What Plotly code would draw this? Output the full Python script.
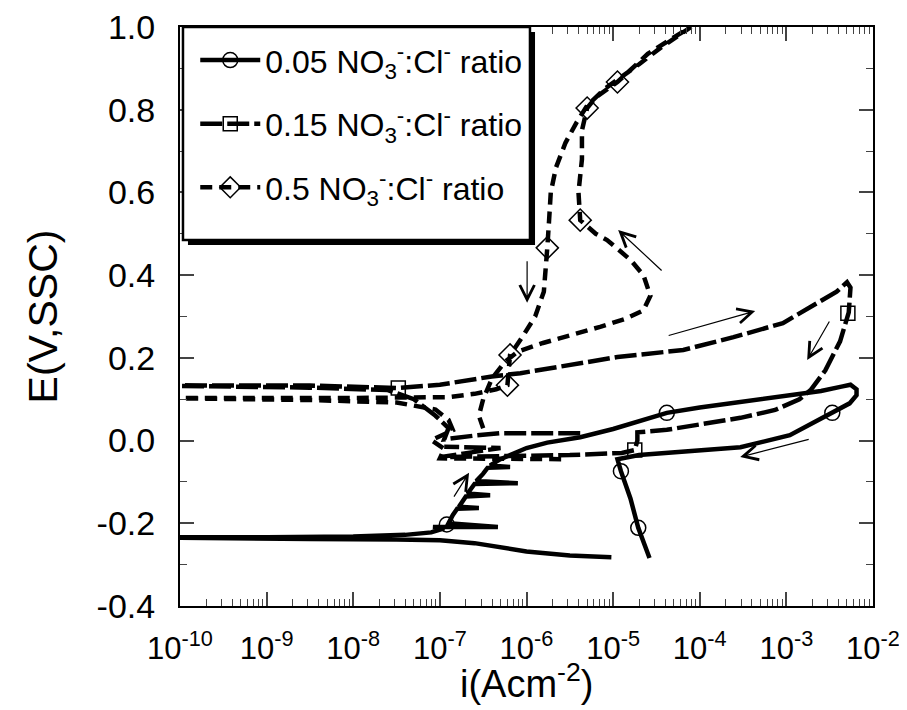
import numpy as np
import plotly.graph_objects as go

# ---------------- data (log10 of current density, potential in V vs SSC) ----------------
# 0.05 NO3-:Cl- ratio (solid, circles)
c1_logi = [-5.02, -5.5, -6.0, -6.3, -6.6, -7.0, -7.5, -8.5, -9.5, -10.3,
           -10.3, -9.0, -8.0, -7.4, -7.1, -6.95,
           -7.08, -6.33, -6.9, -6.85, -6.8, -6.55, -6.78, -6.7, -6.42, -6.68,
           -6.6, -6.1, -6.58, -6.5, -6.45, -6.19, -6.42, -6.3, -6.15, -6.0,
           -5.76, -5.38, -5.0, -4.7, -4.38, -4.0, -3.5, -3.0, -2.6, -2.35,
           -2.26, -2.19, -2.19, -2.27, -2.47, -2.96, -3.53, -4.31, -4.7,
           -4.95, -4.93, -4.91, -4.8, -4.71, -4.58]
c1_E = [-0.282, -0.278, -0.268, -0.257, -0.248, -0.241, -0.239, -0.238, -0.237, -0.237,
        -0.234, -0.234, -0.232, -0.228, -0.222, -0.212,
        -0.209, -0.209, -0.200, -0.180, -0.165, -0.163, -0.160, -0.135, -0.132, -0.128,
        -0.105, -0.103, -0.098, -0.080, -0.066, -0.064, -0.060, -0.045, -0.030, -0.018,
        -0.005, 0.008, 0.028, 0.048, 0.067, 0.080, 0.094, 0.108, 0.120, 0.131,
        0.135, 0.124, 0.110, 0.090, 0.067, 0.013, -0.016, -0.028, -0.035,
        -0.045, -0.060, -0.074, -0.140, -0.211, -0.284]
c1_mk_logi = [-6.92, -4.38, -2.47, -4.91, -4.71]
c1_mk_E = [-0.203, 0.067, 0.067, -0.074, -0.211]

# 0.15 NO3-:Cl- ratio (long dash, squares)
c2_logi = [-5.38, -6.3, -6.6, -6.95, -6.9, -7.05, -7.3, -7.6, -8.5, -10.3,
           -10.3, -8.5, -7.48, -7.0, -6.7, -6.4, -6.07, -5.65, -4.95, -4.19,
           -3.61, -3.04, -2.64, -2.42, -2.30, -2.26, -2.28, -2.38, -2.55, -2.72,
           -2.85, -3.13, -3.53, -4.0, -4.38, -4.72, -4.72, -4.75, -4.9, -5.5,
           -6.0, -6.5, -7.0, -6.3, -6.95]
c2_E = [0.018, 0.018, 0.012, 0.003, 0.030, 0.060, 0.100, 0.122, 0.128, 0.130,
        0.133, 0.133, 0.127, 0.135, 0.145, 0.155, 0.163, 0.178, 0.202, 0.219,
        0.250, 0.284, 0.333, 0.360, 0.383, 0.370, 0.310, 0.240, 0.170, 0.122,
        0.100, 0.074, 0.055, 0.038, 0.026, 0.020, 0.000, -0.023, -0.030, -0.035,
        -0.037, -0.039, -0.040, -0.018, -0.015]
c2_mk_logi = [-7.48, -2.29, -4.75]
c2_mk_E = [0.127, 0.308, -0.023]

# 0.5 NO3-:Cl- ratio (short dash, diamonds)
c3_logi = [-5.6, -7.0, -6.95, -7.1, -6.85, -6.9, -7.05, -7.5, -8.5, -10.3,
           -10.3, -8.0, -7.2, -6.9, -6.6, -6.35, -6.22, -6.2, -6.19, -6.05,
           -5.9, -5.8, -5.77, -5.76, -5.74, -5.72, -5.66, -5.55, -5.42, -5.3,
           -5.1, -4.95, -4.7, -4.45, -4.2, -4.1, -4.3, -4.6, -4.95, -5.2,
           -5.3, -5.36, -5.36, -5.4, -5.38, -5.2, -5.07, -4.8, -4.65, -4.57,
           -4.65, -4.85, -5.15, -5.5, -5.81, -6.1, -6.25, -6.4, -6.5, -6.55, -6.5]
c3_E = [-0.045, -0.043, -0.020, 0.001, 0.025, 0.050, 0.075, 0.092, 0.098, 0.100,
        0.103, 0.103, 0.103, 0.105, 0.113, 0.124, 0.134, 0.170, 0.207, 0.250,
        0.300, 0.360, 0.420, 0.466, 0.530, 0.600, 0.660, 0.720, 0.770, 0.810,
        0.850, 0.872, 0.910, 0.950, 0.985, 1.000, 0.975, 0.935, 0.867, 0.830,
        0.804, 0.750, 0.680, 0.600, 0.533, 0.500, 0.485, 0.437, 0.400, 0.350,
        0.315, 0.295, 0.275, 0.255, 0.236, 0.215, 0.190, 0.150, 0.100, 0.060, 0.030]
c3_mk_logi = [-6.22, -6.19, -5.76, -5.38, -5.30, -4.95]
c3_mk_E = [0.134, 0.207, 0.466, 0.533, 0.804, 0.867]

names = ["0.05 NO<sub>3</sub><sup>-</sup>:Cl<sup>-</sup> ratio",
         "0.15 NO<sub>3</sub><sup>-</sup>:Cl<sup>-</sup> ratio",
         "0.5 NO<sub>3</sub><sup>-</sup>:Cl<sup>-</sup> ratio"]

# scan-direction arrows: (tail logi, tail E, head logi, head E)
arrows = [(-6.848, -0.139, -6.663, -0.078),
          (-5.993, 0.437, -5.993, 0.333),
          (-4.423, 0.408, -4.942, 0.509),
          (-4.376, 0.253, -3.360, 0.313),
          (-2.494, 0.2915, -2.760, 0.195),
          (-2.725, 0.004, -3.533, -0.040)]

x_tickvals = [1e-10, 1e-9, 1e-8, 1e-7, 1e-6, 1e-5, 1e-4, 1e-3, 1e-2]
x_ticktext = ["10<sup>-10</sup>", "10<sup>-9</sup>", "10<sup>-8</sup>", "10<sup>-7</sup>",
              "10<sup>-6</sup>", "10<sup>-5</sup>", "10<sup>-4</sup>", "10<sup>-3</sup>",
              "10<sup>-2</sup>"]
y_tickvals = [-0.4, -0.2, 0.0, 0.2, 0.4, 0.6, 0.8, 1.0]
y_ticktext = ["-0.4", "-0.2", "0.0", "0.2", "0.4", "0.6", "0.8", "1.0"]

# ---------------- figure ----------------
FONT = "Liberation Sans, Arial, sans-serif"
fig = go.Figure()

series = [
    (c1_logi, c1_E, c1_mk_logi, c1_mk_E, "solid", "circle-open", 15),
    (c2_logi, c2_E, c2_mk_logi, c2_mk_E, "22px,5px", "square-open", 14),
    (c3_logi, c3_E, c3_mk_logi, c3_mk_E, "12px,7px", "diamond-open", 17),
]
for k, (lx, ly, mx, my, dash, sym, ms) in enumerate(series):
    fig.add_trace(go.Scatter(
        x=10 ** np.array(lx), y=ly, mode="lines",
        line=dict(color="black", width=4.5, dash=dash),
        showlegend=False, legendgroup=f"g{k}"))
    fig.add_trace(go.Scatter(
        x=10 ** np.array(mx), y=my, mode="markers",
        marker=dict(symbol=sym, size=ms, color="black", line=dict(width=1.5)),
        showlegend=False, legendgroup=f"g{k}"))
    fig.add_trace(go.Scatter(
        x=[None], y=[None], mode="lines+markers", name=names[k],
        line=dict(color="black", width=4.5, dash=dash),
        marker=dict(symbol=sym, size=ms, color="black", line=dict(width=1.5)),
        legendgroup=f"g{k}"))

for tx, ty, hx, hy in arrows:
    fig.add_annotation(x=hx, y=hy, ax=tx, ay=ty, xref="x", yref="y",
                       axref="x", ayref="y", showarrow=True, arrowhead=5,
                       arrowsize=2.4, arrowwidth=1.2, arrowcolor="black", text="")

# x-axis title as a paper annotation, bottom-anchored just inside the page
fig.add_annotation(x=0.5007, y=0, xref="paper", yref="paper", yshift=-101,
                   xanchor="center", yanchor="bottom", showarrow=False,
                   text="i(Acm<sup>-2</sup>)",
                   font=dict(family=FONT, size=38, color="black"))

# legend box with drop shadow (paper coordinates)
fig.add_shape(type="rect", xref="paper", yref="paper",
              x0=0.0115, x1=0.5123, y0=0.6235, y1=0.9914,
              fillcolor="black", line=dict(width=0), layer="above")
fig.add_shape(type="rect", xref="paper", yref="paper",
              x0=0.0043, x1=0.505, y0=0.632, y1=1.0,
              fillcolor="white", line=dict(color="black", width=2.5), layer="above")

fig.update_xaxes(type="log", range=[-10, -2], tickvals=x_tickvals, ticktext=x_ticktext,
                 ticks="inside", ticklen=14, tickwidth=1.5, mirror="ticks",
                 showline=True, linewidth=2, linecolor="black", showgrid=False,
                 zeroline=False, automargin=False, ticklabelstandoff=14,
                 ticklabeloverflow="allow",
                 minor=dict(ticks="inside", ticklen=7, tickwidth=1.2, dtick="D1",
                            showgrid=False),
                 tickfont=dict(family=FONT, size=31, color="black"))
fig.update_yaxes(range=[-0.4, 1.0], tickvals=y_tickvals, ticktext=y_ticktext,
                 ticks="inside", ticklen=14, tickwidth=1.5, mirror="ticks",
                 showline=True, linewidth=2, linecolor="black", showgrid=False,
                 zeroline=False, automargin=False, ticklabeloverflow="allow",
                 minor=dict(ticks="inside", ticklen=7, tickwidth=1.2, dtick=0.1,
                            showgrid=False),
                 tickfont=dict(family=FONT, size=34, color="black"),
                 ticklabelstandoff=16,
                 title=dict(text="E(V,SSC)", font=dict(family=FONT, size=41,
                            color="black"), standoff=26))

# page body adds an 8 px offset, so the figure is 8 px smaller with matching margins
fig.update_layout(
    width=899, height=702, autosize=False,
    margin=dict(l=172, r=34, t=19, b=104),
    paper_bgcolor="white", plot_bgcolor="white",
    showlegend=True,
    legend=dict(x=0.022, y=0.99, xanchor="left", yanchor="top",
                bgcolor="rgba(0,0,0,0)", borderwidth=0,
                font=dict(family=FONT, size=32, color="black"),
                itemwidth=60, tracegroupgap=19, traceorder="grouped"),
)

fig.write_html("out.html")
